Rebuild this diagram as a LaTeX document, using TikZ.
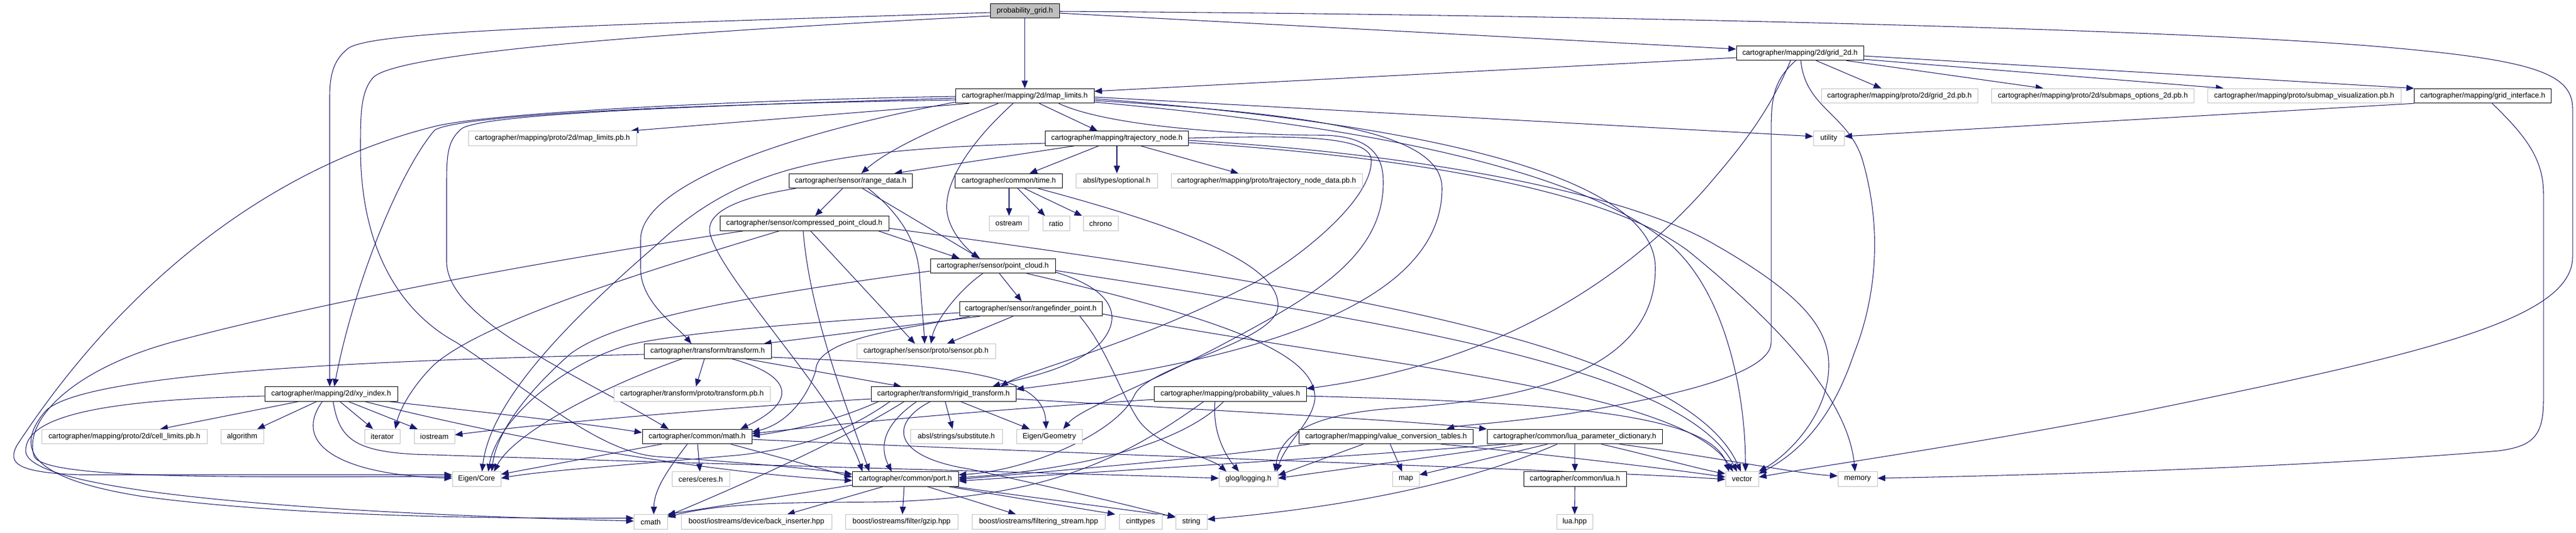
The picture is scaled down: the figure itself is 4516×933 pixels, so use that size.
\documentclass[tikz,border=0pt]{standalone}
\usepackage{fontspec}
\setmainfont{Liberation Sans}
\usetikzlibrary{arrows.meta}
\definecolor{edgec}{HTML}{191970}
\definecolor{grayline}{HTML}{BFBFBF}
\pgfdeclarelayer{edgelayer}
\pgfsetlayers{edgelayer,main}
\tikzset{
  hdr/.style={draw=black, line width=0.75pt, fill=white, rectangle, inner sep=0pt,
     minimum height=19.1pt, font=\fontsize{9.7}{11}\selectfont, text=black},
  ext/.style={hdr, draw=grayline},
  rootn/.style={hdr, fill=grayline},
  bw/.style={minimum width=#1*0.75pt},
  dep/.style={draw=edgec, line width=0.8pt, -{Triangle[length=10pt,width=8pt]}},
}
\begin{document}
\begin{tikzpicture}[x=0.75pt,y=-0.75pt]
\useasboundingbox (0,0) rectangle (4516,933);
\node[rootn,bw=121] (pg) at (1796.5,19) {probability\_grid.h};
\node[hdr,bw=223] (g2d) at (3155.5,93) {cartographer/mapping/2d/grid\_2d.h};
\node[hdr,bw=243] (ml) at (1796.5,168) {cartographer/mapping/2d/map\_limits.h};
\node[ext,bw=274] (g2dpb) at (3330,168) {cartographer/mapping/proto/2d/grid\_2d.pb.h};
\node[ext,bw=355] (subopt) at (3669,168) {cartographer/mapping/proto/2d/submaps\_options\_2d.pb.h};
\node[ext,bw=339] (subvis) at (4039.5,168) {cartographer/mapping/proto/submap\_visualization.pb.h};
\node[hdr,bw=240] (gi) at (4352.5,168) {cartographer/mapping/grid\_interface.h};
\node[ext,bw=295] (mlpb) at (968.5,242.5) {cartographer/mapping/proto/2d/map\_limits.pb.h};
\node[hdr,bw=251] (tn) at (1958,242.5) {cartographer/mapping/trajectory\_node.h};
\node[ext,bw=54] (util) at (3206,242.5) {utility};
\node[hdr,bw=215.5] (rd) at (1491.3,317) {cartographer/sensor/range\_data.h};
\node[hdr,bw=188] (time) at (1768.5,317) {cartographer/common/time.h};
\node[ext,bw=143] (opt) at (1957.5,317) {absl/types/optional.h};
\node[ext,bw=335] (tnpb) at (2220.5,317) {cartographer/mapping/proto/trajectory\_node\_data.pb.h};
\node[hdr,bw=296] (cpc) at (1410,391.5) {cartographer/sensor/compressed\_point\_cloud.h};
\node[ext,bw=69] (ostr) at (1768.5,391.5) {ostream};
\node[ext,bw=47] (ratio) at (1851.5,391.5) {ratio};
\node[ext,bw=61] (chrono) at (1929.5,391.5) {chrono};
\node[hdr,bw=219] (pc) at (1740.5,466) {cartographer/sensor/point\_cloud.h};
\node[hdr,bw=250] (rp) at (1807,541) {cartographer/sensor/rangefinder\_point.h};
\node[hdr,bw=223] (tf) at (1240.5,615.5) {cartographer/transform/transform.h};
\node[ext,bw=243] (spb) at (1623.5,615.5) {cartographer/sensor/proto/sensor.pb.h};
\node[hdr,bw=233] (xy) at (580.5,690.5) {cartographer/mapping/2d/xy\_index.h};
\node[ext,bw=274] (tfpb) at (1213,690.5) {cartographer/transform/proto/transform.pb.h};
\node[hdr,bw=254] (rt) at (1654,690.5) {cartographer/transform/rigid\_transform.h};
\node[hdr,bw=266.5] (pv) at (2156.75,690.5) {cartographer/mapping/probability\_values.h};
\node[ext,bw=290] (cell) at (218,765) {cartographer/mapping/proto/2d/cell\_limits.pb.h};
\node[ext,bw=75] (algo) at (424.5,765) {algorithm};
\node[ext,bw=62] (iter) at (670,765) {iterator};
\node[ext,bw=71] (iostr) at (761.5,765) {iostream};
\node[hdr,bw=192] (math) at (1222,765) {cartographer/common/math.h};
\node[ext,bw=161] (subst) at (1676.5,765) {absl/strings/substitute.h};
\node[ext,bw=115] (geom) at (1839.5,765) {Eigen/Geometry};
\node[hdr,bw=305] (vct) at (2430,765) {cartographer/mapping/value\_conversion\_tables.h};
\node[hdr,bw=307.5] (lpd) at (2760.75,765) {cartographer/common/lua\_parameter\_dictionary.h};
\node[ext,bw=85] (core) at (835.5,839.5) {Eigen/Core};
\node[ext,bw=101] (ceres) at (1228.5,839.5) {ceres/ceres.h};
\node[hdr,bw=185.5] (port) at (1587.25,839.5) {cartographer/common/port.h};
\node[ext,bw=103] (glog) at (2188.5,839.5) {glog/logging.h};
\node[ext,bw=46.5] (map) at (2464.75,839.5) {map};
\node[hdr,bw=180] (lua) at (2761,839.5) {cartographer/common/lua.h};
\node[ext,bw=58] (vec) at (3054,839.5) {vector};
\node[ext,bw=69] (mem) at (3256.5,839.5) {memory};
\node[ext,bw=58.5] (cmath) at (1140.75,914.5) {cmath};
\node[ext,bw=264] (bi) at (1326,914.5) {boost/iostreams/device/back\_inserter.hpp};
\node[ext,bw=197] (gzip) at (1580.5,914.5) {boost/iostreams/filter/gzip.hpp};
\node[ext,bw=232.5] (fs) at (1820.75,914.5) {boost/iostreams/filtering\_stream.hpp};
\node[ext,bw=75] (cint) at (1999.5,914.5) {cinttypes};
\node[ext,bw=55] (str) at (2088.5,914.5) {string};
\node[ext,bw=63] (luahpp) at (2760.5,914.5) {lua.hpp};

\begin{pgfonlayer}{edgelayer}
% probability_grid.h
\draw[dep] (pg.south) -- (ml.north);
\draw[dep] (pg.east |- 0,23) -- (g2d.west |- 0,86);
\draw[dep] (pg.east |- 0,20) .. controls (2600,24) and (3700,45) .. (4150,80) .. controls (4430,103) and (4510,125) .. (4510,190) -- (4510,450) .. controls (4510,560) and (4250,620) .. (3760,720) .. controls (3450,780) and (3200,815) .. (vec.east |- 0,836);
\draw[dep] (pg.west |- 0,22) .. controls (1000,45) and (650,55) .. (610,85) .. controls (585,105) and (578,130) .. (578,170) -- (578,0 |- xy.north);
\draw[dep] (pg.west |- 0,28) .. controls (1100,60) and (700,95) .. (655,135) .. controls (632,160) and (632,200) .. (632,260) .. controls (632,420) and (690,540) .. (800,600) .. controls (950,700) and (1050,790) .. (1150,800) .. controls (1300,810) and (1430,822) .. (port.west |- 0,831);
% grid_2d.h
\draw[dep] (g2d.west |- 0,101) -- (ml.east |- 0,160);
\draw[dep] (3184,0 |- g2d.south) -- (3298,0 |- g2dpb.north);
\draw[dep] (3237,0 |- g2d.south) -- (3582,0 |- subopt.north);
\draw[dep] (g2d.east |- 0,104) -- (3898,0 |- subvis.north);
\draw[dep] (g2d.east |- 0,98) -- (gi.north west);
\draw[dep] (3157,0 |- g2d.south) .. controls (3165,190) and (3240,200) .. (3265,280) .. controls (3300,400) and (3290,520) .. (3250,620) .. controls (3210,740) and (3150,795) .. (vec.east |- 0,830);
\draw[dep] (3139,0 |- g2d.south) .. controls (3100,200) and (3050,260) .. (2990,330) .. controls (2830,510) and (2600,640) .. (pv.east |- 0,681);
\draw[dep] (3148,0 |- g2d.south) .. controls (3110,140) and (3105,170) .. (3105,230) -- (3105,600) .. controls (3105,660) and (2900,700) .. (2750,725) .. controls (2630,742) and (2560,745) .. (2536,0 |- vct.north);
% grid_interface.h
\draw[dep] (gi.south west) -- (util.east |- 0,239);
\draw[dep] (4369,0 |- gi.south) .. controls (4430,240) and (4459,280) .. (4459,340) -- (4459,700) .. controls (4459,765) and (4440,782) .. (4380,790) .. controls (4000,822) and (3500,834) .. (mem.east |- 0,838);
% map_limits.h
\draw[dep] (ml.east |- 0,170) -- (util.west |- 0,239);
\draw[dep] (ml.east |- 0,173) .. controls (2600,225) and (2902,330) .. (2902,470) .. controls (2902,640) and (2700,700) .. (2450,715) .. controls (2300,725) and (2245,760) .. (2235,0 |- glog.north);
\draw[dep] (ml.east |- 0,176) .. controls (2300,200) and (2528,230) .. (2528,330) .. controls (2528,500) and (2300,620) .. (rt.east |- 0,682);
\draw[dep] (ml.east |- 0,179) .. controls (2500,230) and (2800,320) .. (2930,430) .. controls (3030,520) and (3060,700) .. (3060,0 |- vec.north);
\draw[dep] (1856,0 |- ml.south) .. controls (1950,225) and (2200,237) .. (2323,237) .. controls (2415,240) and (2425,285) .. (2425,320) .. controls (2425,450) and (2300,520) .. (2150,600) .. controls (2000,680) and (1895,715) .. (1864,0 |- geom.north);
\draw[dep] (1822,0 |- ml.south) -- (1924,0 |- tn.north);
\draw[dep] (1776,0 |- ml.south) .. controls (1700,250) and (1655,320) .. (1660,370) .. controls (1665,410) and (1700,440) .. (1716,0 |- pc.north);
\draw[dep] (1750,0 |- ml.south) .. controls (1650,220) and (1560,260) .. (1510,0 |- rd.north);
\draw[dep] (1699,0 |- ml.south) -- (1106,0 |- mlpb.north);
\draw[dep] (ml.west |- 0,169) .. controls (1300,175) and (850,198) .. (760,222) .. controls (450,300) and (200,520) .. (30,780) .. controls (12,812) and (30,828) .. (140,832) -- (core.west |- 0,832);
\draw[dep] (ml.west |- 0,172) .. controls (1200,186) and (850,200) .. (810,225) .. controls (785,245) and (783,270) .. (783,320) -- (783,460) .. controls (786,560) and (1000,650) .. (1172,0 |- math.north);
\draw[dep] (ml.west |- 0,175) .. controls (1100,185) and (800,205) .. (762,228) .. controls (700,300) and (620,500) .. (586,0 |- xy.north);
\draw[dep] (ml.west |- 0,179) .. controls (1350,240) and (1123,330) .. (1123,420) -- (1123,470) .. controls (1123,530) and (1185,570) .. (1212,0 |- tf.north);
% trajectory_node.h
\draw[dep] (tn.west |- 0,251) .. controls (1450,262) and (1300,290) .. (1150,430) .. controls (1000,560) and (860,700) .. (845,0 |- core.north);
\draw[dep] (1883,0 |- tn.south) -- (1568,0 |- rd.north);
\draw[dep] (1926,0 |- tn.south) -- (1805,0 |- time.north);
\draw[dep] (1958,0 |- tn.south) -- (1958,0 |- opt.north);
\draw[dep] (2000,0 |- tn.south) -- (2171,0 |- tnpb.north);
\draw[dep] (tn.east |- 0,242) .. controls (2250,238) and (2402,235) .. (2404,280) .. controls (2406,350) and (2280,450) .. (2200,495) .. controls (2000,600) and (1800,650) .. (1754,0 |- rt.north);
\draw[dep] (tn.east |- 0,246) .. controls (2500,270) and (2850,340) .. (3000,425) .. controls (3150,510) and (3206,570) .. (3206,640) .. controls (3206,730) and (3130,800) .. (vec.east |- 0,826);
\draw[dep] (tn.east |- 0,250) .. controls (2400,270) and (2800,320) .. (2960,440) .. controls (3120,570) and (3240,700) .. (3252,0 |- mem.north);
% range_data.h
\draw[dep] (1395,0 |- rd.south) .. controls (1300,345) and (1235,370) .. (1245,410) .. controls (1265,490) and (1470,700) .. (1512,0 |- port.north);
\draw[dep] (1477,0 |- rd.south) -- (1429,0 |- cpc.north);
\draw[dep] (1512,0 |- rd.south) -- (1718,0 |- pc.north);
\draw[dep] (1522,0 |- rd.south) .. controls (1585,380) and (1608,430) .. (1612,480) .. controls (1616,540) and (1620,580) .. (1621,0 |- spb.north);
% compressed_point_cloud.h
\draw[dep] (1540,0 |- cpc.south) -- (1682,0 |- pc.north);
\draw[dep] (cpc.east |- 0,400) .. controls (2300,500) and (2950,600) .. (3052,0 |- vec.north);
\draw[dep] (1421,0 |- cpc.south) -- (1604,0 |- spb.north);
\draw[dep] (1408,0 |- cpc.south) .. controls (1420,550) and (1480,700) .. (1524,0 |- port.north);
\draw[dep] (1366,0 |- cpc.south) .. controls (1150,470) and (850,560) .. (760,640) .. controls (720,680) and (700,720) .. (693,0 |- iter.north);
\draw[dep] (1303,0 |- cpc.south) .. controls (1000,450) and (600,520) .. (300,600) .. controls (120,650) and (40,740) .. (60,800) .. controls (80,840) and (400,836) .. (core.west |- 0,835);
% point_cloud.h
\draw[dep] (1723,0 |- pc.south) .. controls (1685,505) and (1640,560) .. (1632,0 |- spb.north);
\draw[dep] (1752,0 |- pc.south) -- (1791,0 |- rp.north);
\draw[dep] (pc.east |- 0,477) .. controls (1960,510) and (1965,560) .. (1930,600) .. controls (1880,650) and (1780,665) .. (1740,0 |- rt.north);
\draw[dep] (pc.west |- 0,475) .. controls (1300,520) and (1080,560) .. (1000,620) .. controls (920,690) and (870,760) .. (862,0 |- core.north);
\draw[dep] (1800,0 |- pc.south) .. controls (2150,560) and (2310,620) .. (2305,700) .. controls (2300,740) and (2255,775) .. (2238,0 |- glog.north);
\draw[dep] (pc.east |- 0,474) .. controls (2400,560) and (2950,640) .. (3045,0 |- vec.north);
% rangefinder_point.h
\draw[dep] (1776,0 |- rp.south) -- (1660,0 |- spb.north);
\draw[dep] (1718,0 |- rp.south) -- (1339,0 |- tf.north);
\draw[dep] (rp.west |- 0,548) .. controls (1400,565) and (1180,585) .. (1100,605) .. controls (980,640) and (870,740) .. (856,0 |- core.north);
\draw[dep] (1700,0 |- rp.south) .. controls (1600,575) and (1430,590) .. (1430,650) .. controls (1410,710) and (1370,745) .. (math.east |- 0,757);
\draw[dep] (1893,0 |- rp.south) .. controls (1940,610) and (1960,680) .. (1995,735) .. controls (2030,785) and (2120,800) .. (2150,0 |- glog.north);
\draw[dep] (rp.east |- 0,550) .. controls (2400,640) and (2950,680) .. (3038,0 |- vec.north);
% transform.h
\draw[dep] (1235,0 |- tf.south) -- (1220,0 |- tfpb.north);
\draw[dep] (1283,0 |- tf.south) .. controls (1395,660) and (1395,705) .. (1298,0 |- math.north);
\draw[dep] (1196,0 |- tf.south) .. controls (1050,680) and (900,760) .. (866,0 |- core.north);
\draw[dep] (tf.east |- 0,626) .. controls (1700,640) and (1830,660) .. (1834,0 |- geom.north);
\draw[dep] (1307,0 |- tf.south) -- (1580,0 |- rt.north);
\draw[dep] (tf.west |- 0,621) .. controls (700,630) and (150,650) .. (80,720) .. controls (20,790) and (60,840) .. (250,870) .. controls (550,910) and (950,908) .. (cmath.west |- 0,908);
% rigid_transform.h
\draw[dep] (1657,0 |- rt.south) -- (1670,0 |- subst.north);
\draw[dep] (1684,0 |- rt.south) -- (1805,0 |- geom.north);
\draw[dep] (rt.west |- 0,699) .. controls (1300,712) and (950,742) .. (iostr.east |- 0,762);
\draw[dep] (1540,0 |- rt.south) .. controls (1470,735) and (1400,752) .. (math.east |- 0,764);
\draw[dep] (1560,0 |- rt.south) .. controls (1480,760) and (1400,785) .. (1300,797) .. controls (1100,815) and (950,825) .. (core.east |- 0,838);
\draw[dep] (1607,0 |- rt.south) .. controls (1540,750) and (1545,790) .. (1563,0 |- port.north);
\draw[dep] (1631,0 |- rt.south) .. controls (1560,740) and (1560,800) .. (1700,822) .. controls (1850,855) and (1980,885) .. (str.west |- 0,907);
\draw[dep] (1585,0 |- rt.south) .. controls (1480,770) and (1300,850) .. (cmath.east |- 0,904);
\draw[dep] (rt.east |- 0,699) .. controls (2100,718) and (2450,735) .. (lpd.north west);
% math.h
\draw[dep] (1223,0 |- math.south) -- (1227,0 |- ceres.north);
\draw[dep] (1205,0 |- math.south) .. controls (1165,830) and (1147,860) .. (1146,0 |- cmath.north);
\draw[dep] (1160,0 |- math.south) -- (core.east |- 0,831);
\draw[dep] (1281,0 |- math.south) -- (port.west |- 0,836);
\draw[dep] (math.east |- 0,770) .. controls (2000,800) and (2800,825) .. (vec.west |- 0,840);
% port.h
\draw[dep] (1548,0 |- port.south) -- (1380,0 |- bi.north);
\draw[dep] (1585,0 |- port.south) -- (1582,0 |- gzip.north);
\draw[dep] (1626,0 |- port.south) -- (1781,0 |- fs.north);
\draw[dep] (1663,0 |- port.south) -- (1955,0 |- cint.north);
\draw[dep] (1672,0 |- port.south) -- (str.west |- 0,905);
\draw[dep] (port.west |- 0,850) -- (cmath.north east);
% time.h
\draw[dep] (1769,0 |- time.south) -- (1769,0 |- ostr.north);
\draw[dep] (1784,0 |- time.south) -- (1832,0 |- ratio.north);
\draw[dep] (1796,0 |- time.south) -- (1897,0 |- chrono.north);
\draw[dep] (1820,0 |- time.south) .. controls (2050,392) and (2250,460) .. (2240,540) .. controls (2230,600) and (2020,640) .. (1990,690) .. controls (1960,760) and (1800,825) .. (port.east |- 0,832);
% probability_values.h
\draw[dep] (2130,0 |- pv.south) .. controls (2125,760) and (2150,800) .. (2172,0 |- glog.north);
\draw[dep] (2145,0 |- pv.south) .. controls (2050,800) and (1800,830) .. (port.east |- 0,837);
\draw[dep] (2110,0 |- pv.south) .. controls (1950,820) and (1800,880) .. (1500,880) .. controls (1350,880) and (1250,885) .. (cmath.east |- 0,906);
\draw[dep] (pv.west |- 0,700) .. controls (1700,720) and (1450,745) .. (math.east |- 0,760);
\draw[dep] (pv.east |- 0,694) .. controls (2700,705) and (3000,720) .. (3031,0 |- vec.north);
% value_conversion_tables.h
\draw[dep] (2437,0 |- vct.south) -- (2458,0 |- map.north);
\draw[dep] (2296,0 |- vct.south) .. controls (2100,805) and (1850,825) .. (port.east |- 0,840);
\draw[dep] (2390,0 |- vct.south) -- (glog.east |- 0,833);
\draw[dep] (2526,0 |- vct.south) .. controls (2750,800) and (2950,825) .. (vec.west |- 0,836);
% lua_parameter_dictionary.h
\draw[dep] (2713,0 |- lpd.south) -- (map.east |- 0,832);
\draw[dep] (lpd.south) -- (lua.north);
\draw[dep] (2730,0 |- lpd.south) .. controls (2600,835) and (2400,885) .. (str.east |- 0,910);
\draw[dep] (2669,0 |- lpd.south) -- (glog.east |- 0,838);
\draw[dep] (2640,0 |- lpd.south) .. controls (2300,805) and (1900,828) .. (port.east |- 0,843);
\draw[dep] (2807,0 |- lpd.south) .. controls (2900,800) and (2980,822) .. (vec.west |- 0,830);
\draw[dep] (2839,0 |- lpd.south) .. controls (3000,800) and (3150,830) .. (mem.west |- 0,834);
% lua.h
\draw[dep] (lua.south) -- (luahpp.north);
% xy_index.h
\draw[dep] (523,0 |- xy.south) -- (281,0 |- cell.north);
\draw[dep] (555,0 |- xy.south) -- (451,0 |- algo.north);
\draw[dep] (596,0 |- xy.south) -- (654,0 |- iter.north);
\draw[dep] (611,0 |- xy.south) -- (732,0 |- iostr.north);
\draw[dep] (683,0 |- xy.south) .. controls (780,715) and (1000,738) .. (math.west |- 0,758);
\draw[dep] (640,0 |- xy.south) .. controls (900,770) and (1250,830) .. (port.west |- 0,842);
\draw[dep] (584,0 |- xy.south) .. controls (595,770) and (620,795) .. (760,797) .. controls (1300,815) and (1900,830) .. (glog.west |- 0,838);
\draw[dep] (565,0 |- xy.south) .. controls (510,780) and (600,832) .. (core.west |- 0,838);
\draw[dep] (xy.west |- 0,694) .. controls (200,700) and (45,725) .. (45,790) .. controls (45,850) and (400,895) .. (cmath.west |- 0,913);
\end{pgfonlayer}
\end{tikzpicture}
\end{document}
